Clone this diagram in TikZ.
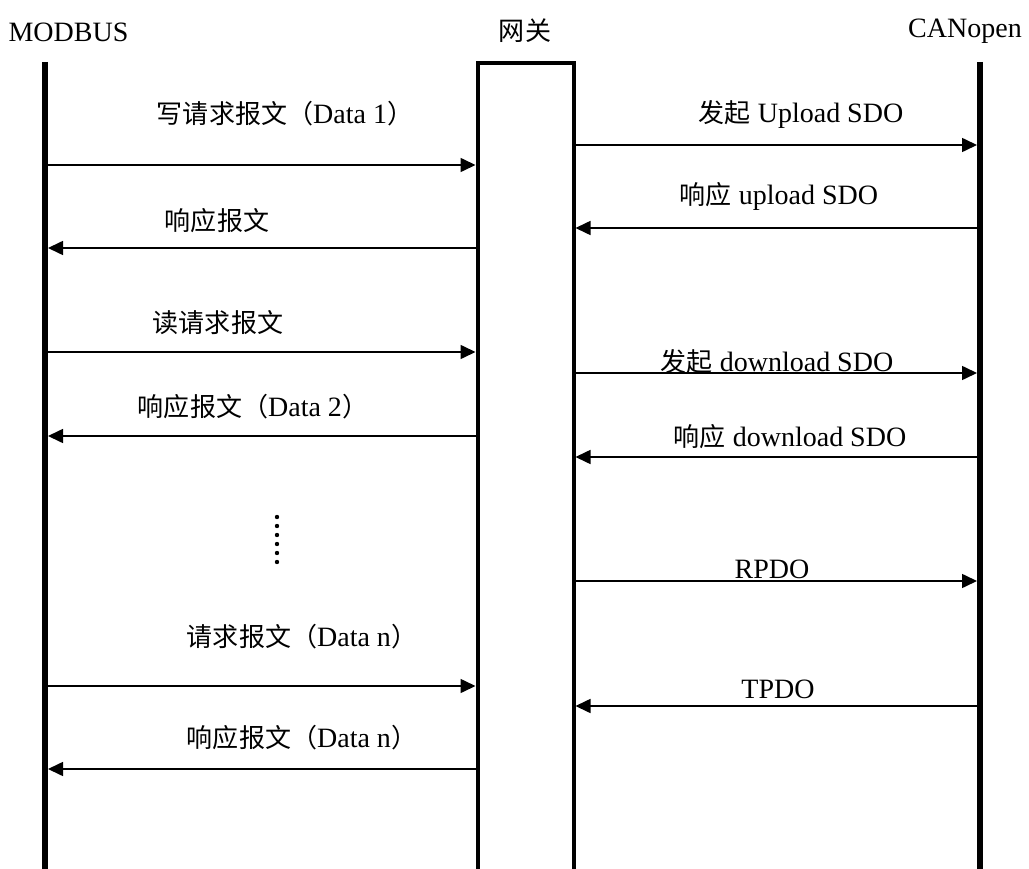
\documentclass[tikz,border=0pt]{standalone}
\usepackage{fontspec}
\setmainfont{Liberation Serif}
\newfontfamily\cjk[Scale=0.93]{Noto Sans CJK SC}
\usetikzlibrary{arrows.meta}
\newcommand\zh[1]{{\cjk #1}}
\tikzset{
  lbl/.style={font=\fontsize{28pt}{32pt}\selectfont, inner sep=0pt, anchor=center},
  msg/.style={line width=1.6pt, -{Triangle[length=15pt,width=14pt]}},
  life/.style={line width=6pt},
  gate/.style={line width=4pt},
}
\begin{document}
\begin{tikzpicture}[x=1pt,y=-1pt]
\useasboundingbox (0,0) rectangle (1029,869);
% headers
\node[lbl] (hm) at (68.5,32) {MODBUS};
\node[lbl] (hg) at (525,31) {\zh{网关}};
\node[lbl] (hc) at (965,31) {CANopen};
% lifelines
\draw[life] (45,62) -- (45,869);
\draw[life] (980,62) -- (980,869);
\draw[gate] (477.5,869) -- (477.5,63) -- (573.5,63) -- (573.5,869);
% left coordinates
\foreach \n/\y in {1/165,2/248,3/352,4/436,5/686,6/769}{
  \coordinate (m\n) at (48,\y);
  \coordinate (gl\n) at (475.5,\y);
}
\foreach \n/\y in {1/145,2/228,3/373,4/457,5/581,6/706}{
  \coordinate (gr\n) at (575.5,\y);
  \coordinate (c\n) at (977,\y);
}
% left messages
\draw[msg] (m1) -- (gl1);
\draw[msg] (gl2) -- (m2);
\draw[msg] (m3) -- (gl3);
\draw[msg] (gl4) -- (m4);
\draw[msg] (m5) -- (gl5);
\draw[msg] (gl6) -- (m6);
% right messages
\draw[msg] (gr1) -- (c1);
\draw[msg] (c2) -- (gr2);
\draw[msg] (gr3) -- (c3);
\draw[msg] (c4) -- (gr4);
\draw[msg] (gr5) -- (c5);
\draw[msg] (c6) -- (gr6);
% left labels
\node[lbl] (l1) at (285,114) {\zh{写请求报文（}Data 1\zh{）}};
\node[lbl] (l2) at (217,221) {\zh{响应报文}};
\node[lbl] (l3) at (218,323) {\zh{读请求报文}};
\node[lbl] (l4) at (253,407) {\zh{响应报文（}Data 2\zh{）}};
\node[lbl] (l5) at (302,637) {\zh{请求报文（}Data n\zh{）}};
\node[lbl] (l6) at (302,738) {\zh{响应报文（}Data n\zh{）}};
% right labels
\node[lbl] (r1) at (801,114) {\zh{发起} Upload SDO};
\node[lbl] (r2) at (779,196) {\zh{响应} upload SDO};
\node[lbl] (r3) at (777,362) {\zh{发起} download SDO};
\node[lbl] (r4) at (790,437) {\zh{响应} download SDO};
\node[lbl] (r5) at (772,569) {RPDO};
\node[lbl] (r6) at (778,689) {TPDO};
% dots
\foreach \k in {0,...,5}{
  \fill (277,517+9*\k) circle (2.2);
}
\end{tikzpicture}
\end{document}
